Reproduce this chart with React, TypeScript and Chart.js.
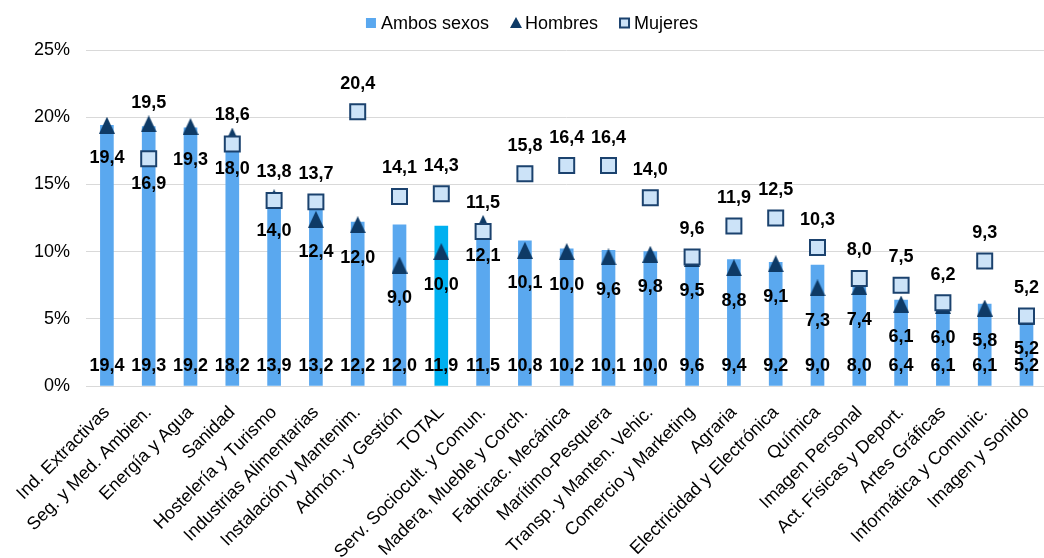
import React, { useEffect, useRef } from 'react';
import { Chart, registerables } from 'chart.js';

Chart.register(...registerables);

const categories = [
  'Ind. Extractivas',
  'Seg. y Med. Ambien.',
  'Energía y Agua',
  'Sanidad',
  'Hostelería y Turismo',
  'Industrias Alimentarias',
  'Instalación y Mantenim.',
  'Admón. y Gestión',
  'TOTAL',
  'Serv. Sociocult. y Comun.',
  'Madera, Mueble y Corch.',
  'Fabricac. Mecánica',
  'Marítimo-Pesquera',
  'Transp. y Manten. Vehic.',
  'Comercio y Marketing',
  'Agraria',
  'Electricidad y Electrónica',
  'Química',
  'Imagen Personal',
  'Act. Físicas y Deport.',
  'Artes Gráficas',
  'Informática y Comunic.',
  'Imagen y Sonido',
];

const ambosSexos = [19.4, 19.3, 19.2, 18.2, 13.9, 13.2, 12.2, 12.0, 11.9, 11.5, 10.8, 10.2, 10.1, 10.0, 9.6, 9.4, 9.2, 9.0, 8.0, 6.4, 6.1, 6.1, 5.2];
const hombres = [19.4, 19.5, 19.3, 18.6, 14.0, 12.4, 12.0, 9.0, 10.0, 12.1, 10.1, 10.0, 9.6, 9.8, 9.5, 8.8, 9.1, 7.3, 7.4, 6.1, 6.0, 5.8, 5.2];
const mujeres = [null, 16.9, null, 18.0, 13.8, 13.7, 20.4, 14.1, 14.3, 11.5, 15.8, 16.4, 16.4, 14.0, 9.6, 11.9, 12.5, 10.3, 8.0, 7.5, 6.2, 9.3, 5.2];

const seriesNames = ['Ambos sexos', 'Hombres', 'Mujeres'];
const yTicks = [0, 5, 10, 15, 20, 25];
const highlightCategory = 'TOTAL';

// label placement exceptions
const hombresLabelAbove = ['Seg. y Med. Ambien.', 'Sanidad'];
const mujeresLabelBelow = ['Seg. y Med. Ambien.', 'Sanidad'];

const FONT = '"Liberation Sans", Arial, sans-serif';
const BAR_COLOR = '#5AA8EF';
const TOTAL_COLOR = '#00B0F0';
const TRI_COLOR = '#0E3A66';
const SQ_FILL = '#CCE3F8';
const SQ_BORDER = '#1B426E';
const GRID = '#D9D9D9';

const fmt = (v: number) => v.toFixed(1).replace('.', ',');

function makeTriangle(w: number, h: number, color: string) {
  const c = document.createElement('canvas');
  c.width = w;
  c.height = h;
  const g = c.getContext('2d')!;
  g.fillStyle = color;
  g.beginPath();
  g.moveTo(w / 2, 0);
  g.lineTo(w, h);
  g.lineTo(0, h);
  g.closePath();
  g.fill();
  return c;
}

export default function App() {
  const ref = useRef<HTMLCanvasElement | null>(null);

  useEffect(() => {
    if (!ref.current) return;
    const tri = makeTriangle(16, 17, TRI_COLOR);
    const triLegend = makeTriangle(12, 11, TRI_COLOR);

    const valueLabels = {
      id: 'valueLabels',
      afterDatasetsDraw(chart: any) {
        const { ctx } = chart;
        const base = chart.scales.y.getPixelForValue(0);
        ctx.save();
        ctx.font = `bold 18px ${FONT}`;
        ctx.fillStyle = '#000';
        ctx.textAlign = 'center';
        ctx.textBaseline = 'middle';
        chart.getDatasetMeta(0).data.forEach((el: any, i: number) => {
          ctx.fillText(fmt(ambosSexos[i]), el.x, base - 20);
        });
        chart.getDatasetMeta(1).data.forEach((el: any, i: number) => {
          const v = hombres[i];
          if (v == null) return;
          const above = hombresLabelAbove.includes(categories[i]);
          ctx.fillText(fmt(v), el.x, el.y + (above ? -21 : 33));
        });
        chart.getDatasetMeta(2).data.forEach((el: any, i: number) => {
          const v = mujeres[i];
          if (v == null) return;
          const below = mujeresLabelBelow.includes(categories[i]);
          ctx.fillText(fmt(v as number), el.x, el.y + (below ? 25 : -28));
        });
        ctx.restore();
      },
    };

    const customLegend = {
      id: 'customLegend',
      afterDraw(chart: any) {
        const { ctx } = chart;
        ctx.save();
        ctx.font = `18px ${FONT}`;
        ctx.textBaseline = 'middle';
        ctx.textAlign = 'left';
        ctx.fillStyle = '#000';
        const labels = chart.data.datasets.map((d: any) => d.label);
        const markerW = 11;
        const gapText = 4;
        const gapItem = 21;
        const widths = labels.map((t: string) => markerW + gapText + ctx.measureText(t).width);
        const total = widths.reduce((a: number, b: number) => a + b, 0) + gapItem * (labels.length - 1);
        let x = 532 - total / 2;
        const y = 23;
        labels.forEach((t: string, i: number) => {
          if (i === 0) {
            ctx.fillStyle = BAR_COLOR;
            ctx.fillRect(x, y - 5, 10, 10);
          } else if (i === 1) {
            ctx.drawImage(triLegend, x, y - 6);
          } else {
            ctx.fillStyle = SQ_FILL;
            ctx.fillRect(x + 1, y - 4.5, 9, 9);
            ctx.strokeStyle = SQ_BORDER;
            ctx.lineWidth = 2;
            ctx.strokeRect(x + 1, y - 4.5, 9, 9);
          }
          ctx.fillStyle = '#000';
          ctx.fillText(t, x + markerW + gapText, y + 1);
          x += widths[i] + gapItem;
        });
        ctx.restore();
      },
    };

    const chart = new Chart(ref.current, {
      type: 'bar',
      data: {
        labels: categories,
        datasets: [
          {
            type: 'bar',
            label: seriesNames[0],
            data: ambosSexos,
            backgroundColor: categories.map((c) => (c === highlightCategory ? TOTAL_COLOR : BAR_COLOR)),
            barThickness: 13,
            order: 3,
          },
          {
            type: 'line',
            label: seriesNames[1],
            data: hombres,
            showLine: false,
            pointStyle: tri as any,
            pointRadius: 9,
            order: 2,
          },
          {
            type: 'line',
            label: seriesNames[2],
            data: mujeres as any,
            showLine: false,
            pointStyle: 'rect',
            pointRadius: 10.6,
            pointBackgroundColor: SQ_FILL,
            pointBorderColor: SQ_BORDER,
            pointBorderWidth: 2,
            order: 1,
          },
        ],
      } as any,
      options: {
        responsive: false,
        animation: false,
        layout: { padding: { top: 50, right: 7.5, left: 0, bottom: 0 } },
        plugins: {
          legend: { display: false },
          tooltip: { enabled: false },
        },
        scales: {
          x: {
            grid: { display: false },
            border: { color: GRID, width: 1 },
            ticks: {
              font: { size: 18, family: FONT },
              color: '#000',
              maxRotation: 45,
              minRotation: 45,
              autoSkip: false,
              padding: 8,
            },
            afterFit: (s: any) => {
              s.height = 172;
            },
          },
          y: {
            min: 0,
            max: 25,
            afterBuildTicks: (s: any) => {
              s.ticks = yTicks.map((v) => ({ value: v }));
            },
            ticks: {
              callback: (v: any) => `${v}%`,
              font: { size: 18, family: FONT },
              color: '#000',
              padding: 16,
            },
            grid: { color: GRID, drawTicks: false, lineWidth: 1 },
            border: { display: false },
            afterFit: (s: any) => {
              s.width = 86;
            },
          },
        },
      } as any,
      plugins: [valueLabels, customLegend],
    });
    return () => chart.destroy();
  }, []);

  return (
    <div style={{ position: 'absolute', left: 0, top: 0, width: 1044, height: 558, overflow: 'hidden', background: '#fff' }}>
      <canvas ref={ref} width={1060} height={558} style={{ display: 'block', width: 1060, height: 558 }} />
    </div>
  );
}
